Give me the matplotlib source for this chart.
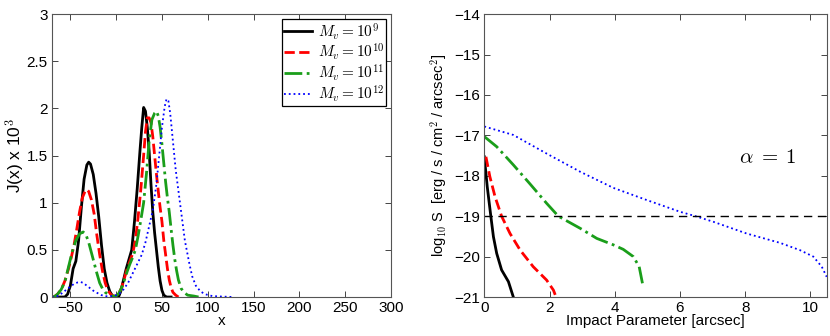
import matplotlib
matplotlib.use('Agg')
import matplotlib.pyplot as plt

plt.rcParams['font.family'] = ['Liberation Sans', 'DejaVu Sans']
plt.rcParams['mathtext.fontset'] = 'cm'
plt.rcParams['font.size'] = 11

# left panel: J(x) x 10^3 versus x, one (x, y) list per halo mass
x_m9 = [-70, -56, -53, -50, -47, -44, -41, -38, -35, -32, -30, -28, -25, -22, -19, -16, -13, -10, -7, -4, -1,
        3, 5, 8, 11, 14, 17, 20, 23, 26, 28, 30, 32, 34, 36, 38, 40, 42, 44, 46, 48, 50, 52, 55, 60]
j_m9 = [0, 0, 0.03, 0.12, 0.3, 0.38, 0.6, 0.95, 1.25, 1.4, 1.43, 1.41, 1.3, 1.1, 0.85, 0.55, 0.3, 0.15, 0.06, 0.01, 0,
        0.01, 0.06, 0.18, 0.3, 0.4, 0.5, 0.8, 1.15, 1.55, 1.8, 2.01, 1.97, 1.8, 1.55, 1.2, 0.9, 0.68, 0.5, 0.32, 0.17, 0.07, 0.02, 0, 0]

x_m10 = [-70, -68, -64, -60, -56, -52, -49, -46, -43, -40, -37, -34, -32, -30, -27, -24, -21, -18, -15, -12, -9, -6, -3, 0,
         3, 6, 9, 12, 15, 18, 21, 24, 27, 30, 32, 34, 36, 38, 40, 42, 44, 46, 48, 50, 52, 54, 56, 58, 60, 62, 65, 68]
j_m10 = [0, 0, 0.03, 0.08, 0.17, 0.3, 0.42, 0.55, 0.72, 0.9, 1.05, 1.12, 1.14, 1.12, 1.03, 0.88, 0.65, 0.45, 0.28, 0.15, 0.07, 0.03, 0.01, 0.01,
         0.04, 0.1, 0.2, 0.3, 0.38, 0.46, 0.6, 0.85, 1.15, 1.5, 1.75, 1.9, 1.9, 1.85, 1.7, 1.5, 1.3, 1.12, 0.95, 0.8, 0.6, 0.45, 0.3, 0.18, 0.1, 0.05, 0.02, 0]

x_m11 = [-70, -68, -64, -60, -56, -52, -48, -44, -40, -36, -33, -30, -27, -24, -21, -18, -15, -12, -9, -6, -3, 0,
         3, 6, 9, 12, 15, 18, 21, 24, 27, 30, 33, 36, 39, 42, 44, 46, 48, 50, 52, 54, 56, 58, 60, 62, 64, 66, 68, 71, 74, 78, 85, 90]
j_m11 = [0, 0, 0.03, 0.08, 0.16, 0.32, 0.48, 0.6, 0.67, 0.69, 0.66, 0.58, 0.47, 0.36, 0.25, 0.15, 0.09, 0.05, 0.03, 0.01, 0.01, 0.01,
         0.04, 0.1, 0.18, 0.27, 0.35, 0.42, 0.5, 0.65, 0.82, 1.0, 1.3, 1.65, 1.88, 1.95, 1.97, 1.92, 1.8, 1.62, 1.42, 1.22, 1.05, 0.9, 0.72,
         0.55, 0.4, 0.28, 0.18, 0.09, 0.05, 0.02, 0.01, 0]

x_m12 = [-70, -66, -62, -58, -54, -50, -46, -42, -39, -36, -32, -28, -24, -20, -16, -12, -8, -4, 0,
         3, 8, 13, 18, 23, 28, 32, 36, 40, 44, 47, 50, 53, 55, 57, 59, 61, 63, 65, 67, 69, 71, 73, 75, 77, 80, 83, 87, 92, 97, 105, 115, 128]
j_m12 = [0, 0, 0.02, 0.05, 0.08, 0.11, 0.14, 0.155, 0.16, 0.15, 0.12, 0.09, 0.06, 0.04, 0.02, 0.01, 0.005, 0.01, 0.02,
         0.03, 0.08, 0.15, 0.25, 0.35, 0.45, 0.58, 0.75, 0.92, 1.2, 1.5, 1.8, 2.02, 2.1, 2.08, 1.95, 1.75, 1.55, 1.35, 1.2, 1.05, 0.9,
         0.75, 0.6, 0.5, 0.35, 0.22, 0.12, 0.06, 0.03, 0.01, 0.005, 0]

# right panel: log10 surface brightness versus impact parameter
b_m9 = [0.0, 0.09, 0.2, 0.28, 0.38, 0.53, 0.74, 0.89]
s_m9 = [-17.53, -18.27, -19.0, -19.51, -19.92, -20.33, -20.62, -21.0]

b_m10 = [0.05, 0.17, 0.33, 0.53, 0.79, 1.10, 1.50, 1.91, 2.12, 2.2]
s_m10 = [-17.53, -18.02, -18.52, -19.0, -19.43, -19.84, -20.25, -20.58, -20.83, -21.0]

b_m11 = [0.0, 0.38, 0.89, 1.40, 1.91, 2.27, 2.94, 3.45, 3.96, 4.26, 4.57, 4.75, 4.85]
s_m11 = [-17.03, -17.28, -17.73, -18.20, -18.68, -19.0, -19.30, -19.55, -19.71, -19.82, -20.0, -20.25, -20.66]

b_m12 = [0.0, 0.89, 1.91, 2.94, 3.96, 4.98, 6.0, 6.52, 7.03, 8.05, 9.07, 9.68, 10.09, 10.35, 10.5]
s_m12 = [-16.78, -16.99, -17.45, -17.90, -18.30, -18.60, -18.89, -19.01, -19.14, -19.43, -19.66, -19.84, -20.0, -20.25, -20.5]

limit = -19

labels = [r'$M_v = 10^{9}$', r'$M_v = 10^{10}$', r'$M_v = 10^{11}$', r'$M_v = 10^{12}$']
colors = ['black', 'red', '#1a9e1a', 'blue']
styles = ['-', '--', '-.', ':']
widths = [2.0, 2.0, 2.0, 1.3]

fig = plt.figure(figsize=(8.3, 3.36), dpi=100)
ax1 = fig.add_axes([0.0627, 0.116, 0.4083, 0.842])
ax2 = fig.add_axes([0.5835, 0.116, 0.4125, 0.842])

left_x = [x_m9, x_m10, x_m11, x_m12]
left_y = [j_m9, j_m10, j_m11, j_m12]
for xs, ys, lab, c, ls, lw in zip(left_x, left_y, labels, colors, styles, widths):
    ax1.plot(xs, ys, color=c, linestyle=ls, linewidth=lw, label=lab)

ax1.set_xlim(-70, 300)
ax1.set_ylim(0, 3)
ax1.set_xticks([-50, 0, 50, 100, 150, 200, 250, 300])
ax1.set_yticks([0, 0.5, 1, 1.5, 2, 2.5, 3])
ax1.set_yticklabels(['0', '0.5', '1', '1.5', '2', '2.5', '3'])
ax1.set_xlabel('x', labelpad=-1)
ax1.set_ylabel(r'J(x) x 10$^3$', fontsize=12.5, labelpad=0)
leg = ax1.legend(loc='upper right', fontsize=11, handlelength=1.8, labelspacing=0.0,
                 borderpad=0.15, handletextpad=0.4, borderaxespad=0.3, fancybox=False, framealpha=1)
leg.get_frame().set_edgecolor('black')
leg.get_frame().set_linewidth(0.9)

right_x = [b_m9, b_m10, b_m11, b_m12]
right_y = [s_m9, s_m10, s_m11, s_m12]
for xs, ys, c, ls, lw in zip(right_x, right_y, colors, styles, widths):
    ax2.plot(xs, ys, color=c, linestyle=ls, linewidth=lw)
ax2.axhline(limit, color='black', linestyle=(0, (6, 4)), linewidth=1.0)
ax2.text(8.7, -17.54, r'$\alpha\; =\; 1$', fontsize=15, ha='center', va='center')

ax2.set_xlim(0, 10.5)
ax2.set_ylim(-21, -14)
ax2.set_xticks([0, 2, 4, 6, 8, 10])
ax2.set_yticks([-21, -20, -19, -18, -17, -16, -15, -14])
ax2.set_xlabel('Impact Parameter [arcsec]', labelpad=-1)
ax2.set_ylabel(r'log$_{10}$ S  [erg / s / cm$^2$ / arcsec$^2$]', fontsize=10.5, labelpad=4)

for ax in (ax1, ax2):
    ax.tick_params(direction='in', top=True, right=True, length=4, width=0.7, pad=3, colors='#444444',
                   labelcolor='black')
    for sp in ax.spines.values():
        sp.set_linewidth(0.8)
        sp.set_color('#555555')

fig.savefig('out.png', dpi=100)
